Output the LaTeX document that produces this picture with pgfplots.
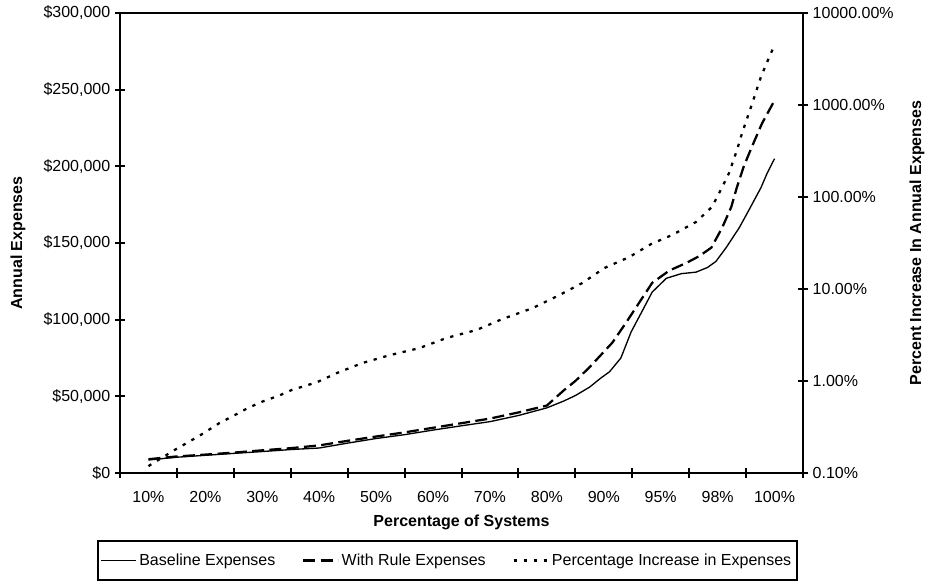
\documentclass[border=0pt]{standalone}
\usepackage{fontspec}
\setmainfont{Liberation Sans}
\usepackage{pgfplots}
\usepackage{pgfplotstable}
\pgfplotsset{compat=1.18}

% x position: category slot index (10% slot spans 0..1, 100% slot spans 11..12)
\pgfplotstableread{
p exp
0.50 8500
1.00 10300
1.40 11300
2.00 12800
2.50 14000
3.00 15300
3.50 16300
4.00 19500
4.50 22500
5.00 25000
5.50 28000
6.00 30800
6.50 33500
7.00 37500
7.50 42500
7.80 47000
8.00 50500
8.25 56000
8.45 62000
8.60 66000
8.80 75000
8.98 92000
9.18 106000
9.35 118000
9.60 127000
9.86 130000
10.12 131000
10.32 134000
10.47 138000
10.65 147000
10.88 160000
11.05 171500
11.26 186000
11.37 195500
11.50 205000
}\baselinetab

\pgfplotstableread{
p exp
0.50 9000
1.00 10800
1.50 12000
2.00 13300
2.50 14800
3.00 16200
3.50 18000
4.00 21000
4.50 23800
5.00 26500
5.50 29500
6.00 32500
6.50 35500
7.00 39500
7.50 44000
7.80 54000
8.00 60000
8.25 69000
8.65 85000
8.89 98000
9.12 111000
9.35 124000
9.65 132000
9.95 137000
10.18 141500
10.39 147000
10.58 160000
10.74 173500
10.84 186500
10.96 200000
11.10 212600
11.28 228000
11.50 243000
}\ruletab

\pgfplotstableread{
p pct
0.50 0.119
0.96 0.178
1.40 0.255
1.75 0.35
2.02 0.427
2.25 0.51
2.51 0.60
2.81 0.70
3.02 0.80
3.46 0.97
3.81 1.22
4.26 1.57
4.74 1.91
5.26 2.28
5.74 2.94
6.26 3.58
6.72 4.72
7.25 6.2
7.72 8.6
8.12 11.6
8.51 16.9
8.95 22.3
9.33 30.8
9.70 38.6
10.12 53.5
10.40 77.9
10.58 128
10.70 182
10.84 324
10.93 496
11.11 1052
11.26 2015
11.40 3245
11.50 4490
}\pcttab

\pgfplotsset{
  baseline line/.style={black, line width=1pt},
  rule line/.style={black, line width=1.7pt, dash pattern=on 9pt off 4pt},
  pct line/.style={black, line width=1.7pt, dash pattern=on 2.5pt off 5pt},
  frame/.style={
    scale only axis, width=512.25pt, height=345pt,
    at={(0,0)}, anchor=south west,
    xmin=0, xmax=12,
    axis line style={line width=1.5pt},
    tick style={black, line width=1.5pt},
    major tick length=7.5pt, tick align=center,
    tick label style={font=\fontsize{12}{14}\selectfont},
    /pgf/number format/assume math mode=true,
  },
}

\begin{document}
\begin{tikzpicture}
\begin{axis}[frame,
  ymin=0, ymax=300000,
  xtick pos=left, ytick pos=left,
  xtick={0,...,12},
  xticklabels={{},{},{},{},{},{},{},{},{},{},{},{},{}},
  extra x ticks={0.5,1.5,...,11.5},
  extra x tick labels={10\%,20\%,30\%,40\%,50\%,60\%,70\%,80\%,90\%,95\%,98\%,100\%},
  extra x tick style={major tick length=0pt, xticklabel style={yshift=-10pt}},
  ytick={0,50000,100000,150000,200000,250000,300000},
  yticklabels={{\$0},{\$50,000},{\$100,000},{\$150,000},{\$200,000},{\$250,000},{\$300,000}},
  scaled y ticks=false,
  xlabel={Percentage of Systems},
  xlabel style={font=\bfseries\fontsize{12}{14}\selectfont, at={(axis description cs:0.5,-0.1065)}, anchor=center},
  ylabel={Annual Expenses},
  ylabel style={font=\bfseries\fontsize{12}{14}\selectfont, at={(axis description cs:-0.1493,0.5)}, anchor=center},
]
\addplot[baseline line] table[x=p, y=exp] {\baselinetab};
\addplot[rule line] table[x=p, y=exp] {\ruletab};
\end{axis}

\begin{axis}[frame,
  ymode=log, ymin=0.1, ymax=10000,
  axis x line=none, axis y line*=right,
  yminorticks=false,
  ytick={0.1,1,10,100,1000,10000},
  yticklabels={0.10\%,1.00\%,10.00\%,100.00\%,1000.00\%,10000.00\%},
  ylabel={Percent Increase In Annual Expenses},
  ylabel style={font=\bfseries\fontsize{12}{14}\selectfont, at={(axis description cs:1.1669,0.5)}, anchor=center},
  legend columns=3,
  legend style={at={(axis description cs:-0.0337,-0.1457)}, anchor=north west,
    draw=black, line width=1.5pt, font=\fontsize{12}{14}\selectfont,
    inner xsep=2pt, inner ysep=7.5pt,
    /tikz/every even column/.append style={column sep=18pt}},
  legend image code/.code={\draw[#1] (0pt,0pt) -- (26pt,0pt);},
]
\addlegendimage{baseline line}
\addlegendentry{Baseline Expenses}
\addlegendimage{rule line}
\addlegendentry{With Rule Expenses}
\addplot[pct line] table[x=p, y=pct] {\pcttab};
\addlegendentry{Percentage Increase in Expenses}
\end{axis}

\pgfresetboundingbox
\path[use as bounding box] (-90pt,-85.5pt) rectangle (605.25pt,354.75pt);
\end{tikzpicture}
\end{document}
